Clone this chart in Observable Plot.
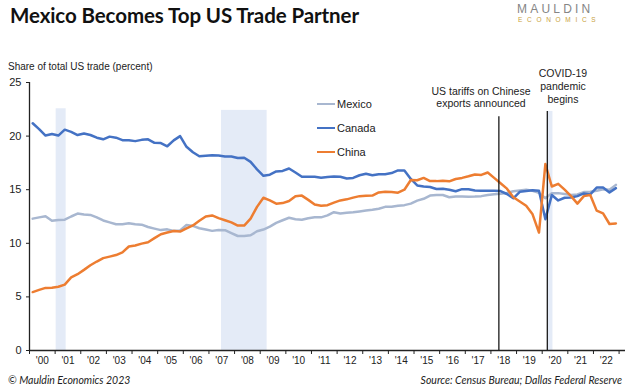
<!DOCTYPE html>
<html><head><meta charset="utf-8">
<script src="https://cdn.jsdelivr.net/npm/d3@7"></script>
<script src="https://cdn.jsdelivr.net/npm/@observablehq/plot@0.6"></script>
<style>
body{margin:0;background:#fff;}
#wrap{position:relative;width:630px;height:390px;overflow:hidden;font-family:"Liberation Sans",Arial,sans-serif;color:#222;}
#chart{position:absolute;left:0;top:0;}
.abs{position:absolute;white-space:nowrap;}
#title{left:10px;top:3px;font-family:Lato,sans-serif;font-weight:700;font-size:20.5px;letter-spacing:-0.1px;color:#111;}
#logo1{left:517px;top:2px;font-size:12px;letter-spacing:3.2px;color:#858585;}
#logo2{left:518px;top:16px;font-size:6.5px;letter-spacing:4.7px;color:#c9a23c;}
#ytitle{left:8px;top:61px;font-size:10px;}
.ann{font-size:10.5px;line-height:12px;text-align:center;}
#legend{left:317px;top:92px;font-size:11px;}
.leg{display:flex;align-items:center;height:24px;}
.sw{width:18px;height:2.5px;margin-right:2px;}
.foot{top:374px;font-family:Lato,sans-serif;font-style:italic;font-size:10.5px;}
</style></head>
<body>
<div id="wrap">
  <div id="chart"></div>
  <div class="abs" id="title">Mexico Becomes Top US Trade Partner</div>
  <div class="abs" id="logo1">MAULDIN</div>
  <div class="abs" id="logo2">ECONOMICS</div>
  <div class="abs" id="ytitle">Share of total US trade (percent)</div>
  <div class="abs ann" id="ann1" style="left:411px;width:140px;top:85px;"></div>
  <div class="abs ann" id="ann2" style="left:523px;width:80px;top:67px;line-height:13.2px;"></div>
  <div class="abs" id="legend"></div>
  <div class="abs foot" style="left:8px;">© Mauldin Economics 2023</div>
  <div class="abs foot" style="right:8px;">Source: Census Bureau; Dallas Federal Reserve</div>
</div>
<script>
// Quarterly share of total US trade (percent), 2000Q1 .. 2022Q4
const firstYear = 2000;
const seriesNames = ["Mexico", "Canada", "China"];
const mexico = [12.3,12.42,12.52,12.1,12.18,12.2,12.5,12.77,12.68,12.65,
12.42,12.13,11.95,11.78,11.78,11.86,11.78,11.74,11.52,11.37,
11.23,11.3,11.16,11.2,11.7,11.62,11.4,11.28,11.16,11.25,
11.22,10.95,10.68,10.68,10.75,11.12,11.28,11.55,11.9,12.15,
12.38,12.25,12.2,12.34,12.42,12.42,12.6,12.9,12.78,12.85,
12.9,12.97,13.05,13.12,13.22,13.4,13.4,13.5,13.56,13.7,
13.98,14.15,14.45,14.5,14.5,14.3,14.37,14.37,14.34,14.36,
14.4,14.5,14.57,14.62,14.7,14.85,14.93,15.0,14.9,14.7,
14.2,14.68,14.68,14.6,14.5,14.55,14.78,14.81,14.9,15.05,
15.0,15.45];
const canada = [21.2,20.65,20.05,20.2,20.05,20.6,20.4,20.1,20.24,20.1,
19.85,19.7,19.95,19.85,19.62,19.62,19.53,19.65,19.7,19.37,
19.35,19.05,19.6,20.0,19.0,18.5,18.12,18.17,18.22,18.2,
18.1,18.1,17.95,17.98,17.6,16.9,16.3,16.4,16.7,16.75,
16.98,16.6,16.2,16.2,16.2,16.12,16.18,16.22,16.2,16.05,
16.1,16.35,16.48,16.35,16.45,16.45,16.55,16.8,16.8,16.0,
15.4,15.3,15.25,15.06,15.09,15.0,14.85,15.05,15.05,14.93,
14.9,14.9,14.9,14.87,14.6,14.2,14.8,14.87,14.95,14.9,
12.25,14.5,14.0,14.25,14.28,14.4,14.65,14.56,15.2,15.2,
14.75,15.15];
const china = [5.45,5.65,5.84,5.86,5.95,6.15,6.82,7.12,7.52,7.95,
8.3,8.62,8.76,8.9,9.15,9.7,9.8,9.97,10.1,10.48,
10.85,11.0,11.15,11.1,11.4,11.67,12.1,12.5,12.6,12.35,
12.15,11.95,11.65,11.65,12.3,13.4,14.25,14.0,13.7,13.75,
13.95,14.4,14.45,14.05,13.62,13.5,13.56,13.8,14.0,14.1,
14.26,14.4,14.43,14.45,14.75,14.8,14.78,14.72,15.0,15.9,
15.88,16.1,15.8,15.8,15.84,15.78,16.0,16.1,16.25,16.42,
16.38,16.6,16.1,15.6,15.1,14.3,13.9,13.5,12.7,11.0,
17.4,15.3,15.55,15.0,14.4,13.7,14.4,14.5,13.05,12.8,
11.8,11.85];
// Recession shading (start year, end year, top value)
const recStart = [2001.04, 2007.49, 2020.22];
const recEnd   = [2001.43, 2009.27, 2020.42];
const recTop   = [22.55, 22.4, 22.3];
// Event lines
const eventYear = [2018.31, 2020.2];
const eventTop  = [21.8, 22.3];
const eventText = [["US tariffs on Chinese","exports announced"],["COVID-19","pandemic","begins"]];
const yTicks = [0,5,10,15,20,25];
const yearLabels = ["'00","'01","'02","'03","'04","'05","'06","'07","'08","'09","'10","'11","'12","'13","'14","'15","'16","'17","'18","'19","'20","'21","'22"];
const colors = {Mexico:"#a8b7d0", Canada:"#4472c4", China:"#ed7d31"};

const values = {Mexico: mexico, Canada: canada, China: china};
const rows = seriesNames.flatMap(name => values[name].map((v, i) => ({name, t: firstYear + (i + 0.5) / 4, v})));
const recs = recStart.map((s, i) => ({s, e: recEnd[i], top: recTop[i]}));
const events = eventYear.map((x, i) => ({x, top: eventTop[i]}));
const yearBounds = d3.range(firstYear, firstYear + yearLabels.length + 1);
const yearMids = yearLabels.map((_, i) => firstYear + i + 0.5);

const plot = Plot.plot({
  width: 630, height: 390,
  marginTop: 82, marginBottom: 40, marginLeft: 29, marginRight: 5,
  x: {domain: [firstYear, 2023.25]},
  y: {domain: [0, 25]},
  style: {fontFamily: "Liberation Sans, Arial, sans-serif", fontSize: "11px", color: "#222", background: "transparent"},
  marks: [
    Plot.rect(recs, {x1: "s", x2: "e", y1: 0, y2: "top", fill: "#e4ebf7"}),
    ...seriesNames.map(name => Plot.line(rows.filter(d => d.name === name), {x: "t", y: "v", stroke: colors[name], strokeWidth: 2.5, strokeLinejoin: "round"})),
    Plot.ruleX(events, {x: "x", y1: 0, y2: "top", stroke: "#1a1a1a", strokeWidth: 1.3}),
    Plot.ruleX([firstYear], {y1: 0, y2: 25, stroke: "#222", strokeWidth: 1.3}),
    Plot.ruleY([0], {x1: firstYear, x2: 2023.25, stroke: "#222", strokeWidth: 1.3}),
    Plot.axisY({ticks: yTicks, tickSize: 3, tickPadding: 5, label: null, fontSize: 11}),
    Plot.axisX({ticks: yearBounds, tickSize: 4, tickFormat: () => "", label: null}),
    Plot.axisX({ticks: yearMids, tickSize: 0, tickPadding: 6, tickFormat: (d, i) => yearLabels[i], label: null, fontSize: 10})
  ]
});
document.getElementById("chart").appendChild(plot);

document.getElementById("ann1").innerHTML = eventText[0].join("<br>");
document.getElementById("ann2").innerHTML = eventText[1].join("<br>");
const leg = document.getElementById("legend");
seriesNames.forEach(name => {
  const row = document.createElement("div");
  row.className = "leg";
  row.innerHTML = `<div class="sw" style="background:${colors[name]}"></div><span>${name}</span>`;
  leg.appendChild(row);
});
</script>
</body></html>
